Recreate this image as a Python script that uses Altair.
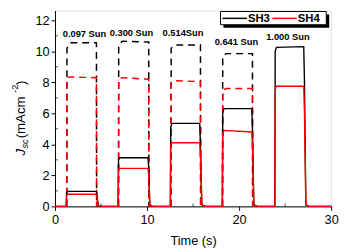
import altair as alt
import pandas as pd

# ---- data ----
# solid traces (SH3 black, SH4 red): time (s) and current (mA cm^-2)
t_solid = [0, 1.22, 1.26, 1.4, 4.5, 4.57, 4.7, 5.0, 6.86, 6.9, 7.0, 10.1, 10.18, 10.3, 10.6,
           12.53, 12.57, 12.7, 15.72, 15.8, 15.95, 16.3, 18.18, 18.22, 18.35, 21.38, 21.45, 21.6, 22.0,
           23.88, 23.92, 24.05, 27.02, 27.1, 27.25, 27.6, 30]
sh3 = [0, 0, 0.9, 0.97, 0.97, 0.6, 0.05, 0, 0, 3.0, 3.14, 3.14, 2.5, 0.1, 0,
       0, 5.1, 5.35, 5.35, 4.0, 0.1, 0, 0, 6.0, 6.3, 6.3, 5.0, 0.1, 0,
       0, 10.0, 10.25, 10.3, 8.0, 0.1, 0, 0]
sh4 = [0, 0, 0.7, 0.78, 0.78, 0.5, 0.05, 0, 0, 2.35, 2.45, 2.45, 2.0, 0.1, 0,
       0, 3.9, 4.1, 4.1, 3.2, 0.1, 0, 0, 4.7, 4.9, 4.8, 3.9, 0.1, 0,
       0, 7.5, 7.75, 7.75, 6.0, 0.1, 0, 0]

# dashed traces, one rectangle-like pulse each (pulses 1-4)
dash_pulse = [1, 1, 1, 1, 1, 2, 2, 2, 2, 2, 3, 3, 3, 3, 3, 4, 4, 4, 4, 4]
dash_t = [1.28, 1.3, 1.7, 4.5, 4.52, 6.9, 6.92, 7.3, 10.18, 10.2, 12.6, 12.62, 13.0, 15.8, 15.82,
          18.2, 18.22, 18.6, 21.45, 21.47]
dash_black = [0, 10.2, 10.55, 10.55, 0, 0, 10.4, 10.65, 10.6, 0, 0, 10.2, 10.4, 10.4, 0,
              0, 9.7, 9.85, 9.85, 0]
dash_red = [0, 8.3, 8.35, 8.3, 0, 0, 8.2, 8.3, 8.2, 0, 0, 8.0, 8.1, 8.05, 0,
            0, 7.5, 7.6, 7.6, 0]

# intensity labels
label_text = ["0.097 Sun", "0.300 Sun", "0.514Sun", "0.641 Sun", "1.000 Sun"]
label_x = [3.2, 8.3, 13.9, 19.7, 25.3]
label_y = [11.1, 11.2, 11.15, 10.6, 10.95]

series_names = ["SH3", "SH4"]
series_colors = ["#000000", "#ff0000"]

x_major = [0, 10, 20, 30]
x_minor = [5, 15, 25]
y_major = [0, 2, 4, 6, 8, 10, 12]
y_minor = [1, 3, 5, 7, 9, 11]

FONT = "Liberation Sans"

# ---- tables ----
solid = pd.concat([
    pd.DataFrame({"t": t_solid, "v": sh3, "s": "SH3", "o": range(len(t_solid))}),
    pd.DataFrame({"t": t_solid, "v": sh4, "s": "SH4", "o": range(len(t_solid))}),
])
dashed = pd.concat([
    pd.DataFrame({"t": dash_t, "v": dash_black, "p": dash_pulse, "c": "k", "o": range(len(dash_t))}),
    pd.DataFrame({"t": dash_t, "v": dash_red, "p": dash_pulse, "c": "r", "o": range(len(dash_t))}),
])
dashed["g"] = dashed["c"] + dashed["p"].astype(str)
labels = pd.DataFrame({"t": label_x, "v": label_y, "txt": label_text})

xs = alt.Scale(domain=[0, 30], nice=False)
ys = alt.Scale(domain=[0, 12.63], nice=False)

x_axis = alt.Axis(
    values=x_major, title="Time (s)", grid=False, tickSize=4, tickColor="black",
    domainColor="black", labelFontSize=13, labelFont=FONT, labelColor="black",
    titleFont=FONT, titleFontSize=13, titleFontWeight="normal", titleColor="black",
    labelPadding=3, titlePadding=9, labelFlush=False, labelOverlap=False)
y_axis = alt.Axis(
    values=y_major, title=None, grid=False, tickSize=4, tickColor="black",
    domainColor="black", labelFontSize=13, labelFont=FONT, labelColor="black",
    labelPadding=2, labelOverlap=False, labelFlush=False)

X = alt.X("t:Q", scale=xs, axis=x_axis)
Y = alt.Y("v:Q", scale=ys, axis=y_axis)

dash_k = alt.Chart(dashed[dashed["c"] == "k"]).mark_line(
    color="black", strokeDash=[7, 5], strokeWidth=1.5).encode(
    x=X, y=Y, detail="g:N", order="o:Q")
dash_r = alt.Chart(dashed[dashed["c"] == "r"]).mark_line(
    color="red", strokeDash=[7, 5], strokeWidth=1.5).encode(
    x=X, y=Y, detail="g:N", order="o:Q")

color_scale = alt.Scale(domain=series_names, range=series_colors)
solid_lines = alt.Chart(solid).mark_line(strokeWidth=1.4).encode(
    x=X, y=Y,
    color=alt.Color("s:N", scale=color_scale, legend=None),
    order="o:Q")

text = alt.Chart(labels).mark_text(
    font=FONT, fontSize=9.5, fontWeight="bold", color="black", baseline="middle").encode(
    x=X, y=Y, text="txt:N")

minor_x = alt.Chart(pd.DataFrame({"t": x_minor})).mark_tick(
    orient="vertical", size=3, thickness=1, color="black").encode(
    x=X, y=alt.value(198.5))
minor_y = alt.Chart(pd.DataFrame({"v": y_minor})).mark_tick(
    orient="horizontal", size=3, thickness=1, color="black").encode(
    y=Y, x=alt.value(1.5))

# ---- legend box (drawn by hand, top right, with a drop shadow) ----
one = pd.DataFrame({"a": [0]})
shadow = alt.Chart(one).mark_rect(color="black").encode(
    x=alt.value(172), x2=alt.value(280), y=alt.value(4), y2=alt.value(17.5))
box = alt.Chart(one).mark_rect(fill="white", stroke="black", strokeWidth=1).encode(
    x=alt.value(169), x2=alt.value(277), y=alt.value(1), y2=alt.value(14.5))
leg = pd.DataFrame({"s": series_names, "x1": [171, 222], "x2": [196, 247], "xt": [197, 248]})
leg_lines = alt.Chart(leg).mark_rule(strokeWidth=1.5).encode(
    x=alt.X("x1:Q", scale=None), x2="x2:Q", y=alt.value(8),
    color=alt.Color("s:N", scale=color_scale, legend=None))
leg_text = alt.Chart(leg).mark_text(
    font=FONT, fontSize=11.5, fontWeight="bold", color="black", align="left",
    baseline="middle").encode(x=alt.X("xt:Q", scale=None), y=alt.value(8.5), text="s:N")

# ---- y-axis title pieces (rotated) ----
def piece(txt, px, py, size, style="normal"):
    return alt.Chart(pd.DataFrame({"txt": [txt]})).mark_text(
        font=FONT, fontSize=size, fontStyle=style, angle=270, align="left",
        baseline="alphabetic", color="black").encode(
        text="txt:N", x=alt.value(px), y=alt.value(py))

y0 = 148
title_parts = [
    piece("J", -31, y0, 13.5, "italic"),
    piece("sc", -28, y0 - 7, 9.5, "italic"),
    piece(" (mAcm", -31, y0 - 17.5, 13.5),
    piece("-2", -38, y0 - 64, 9.5),
    piece(")", -31, y0 - 72, 13.5),
]

chart = alt.layer(
    dash_k, dash_r, solid_lines, text, minor_x, minor_y,
    shadow, box, leg_lines, leg_text, *title_parts
).properties(
    width=282, height=200,
    autosize=alt.AutoSizeParams(type="none"),
    padding={"left": 48, "top": 0, "right": 8, "bottom": 44},
).configure_view(stroke="black", strokeWidth=1).configure(background="white")

chart.save("out.html", embed_options={"renderer": "svg", "actions": False})
